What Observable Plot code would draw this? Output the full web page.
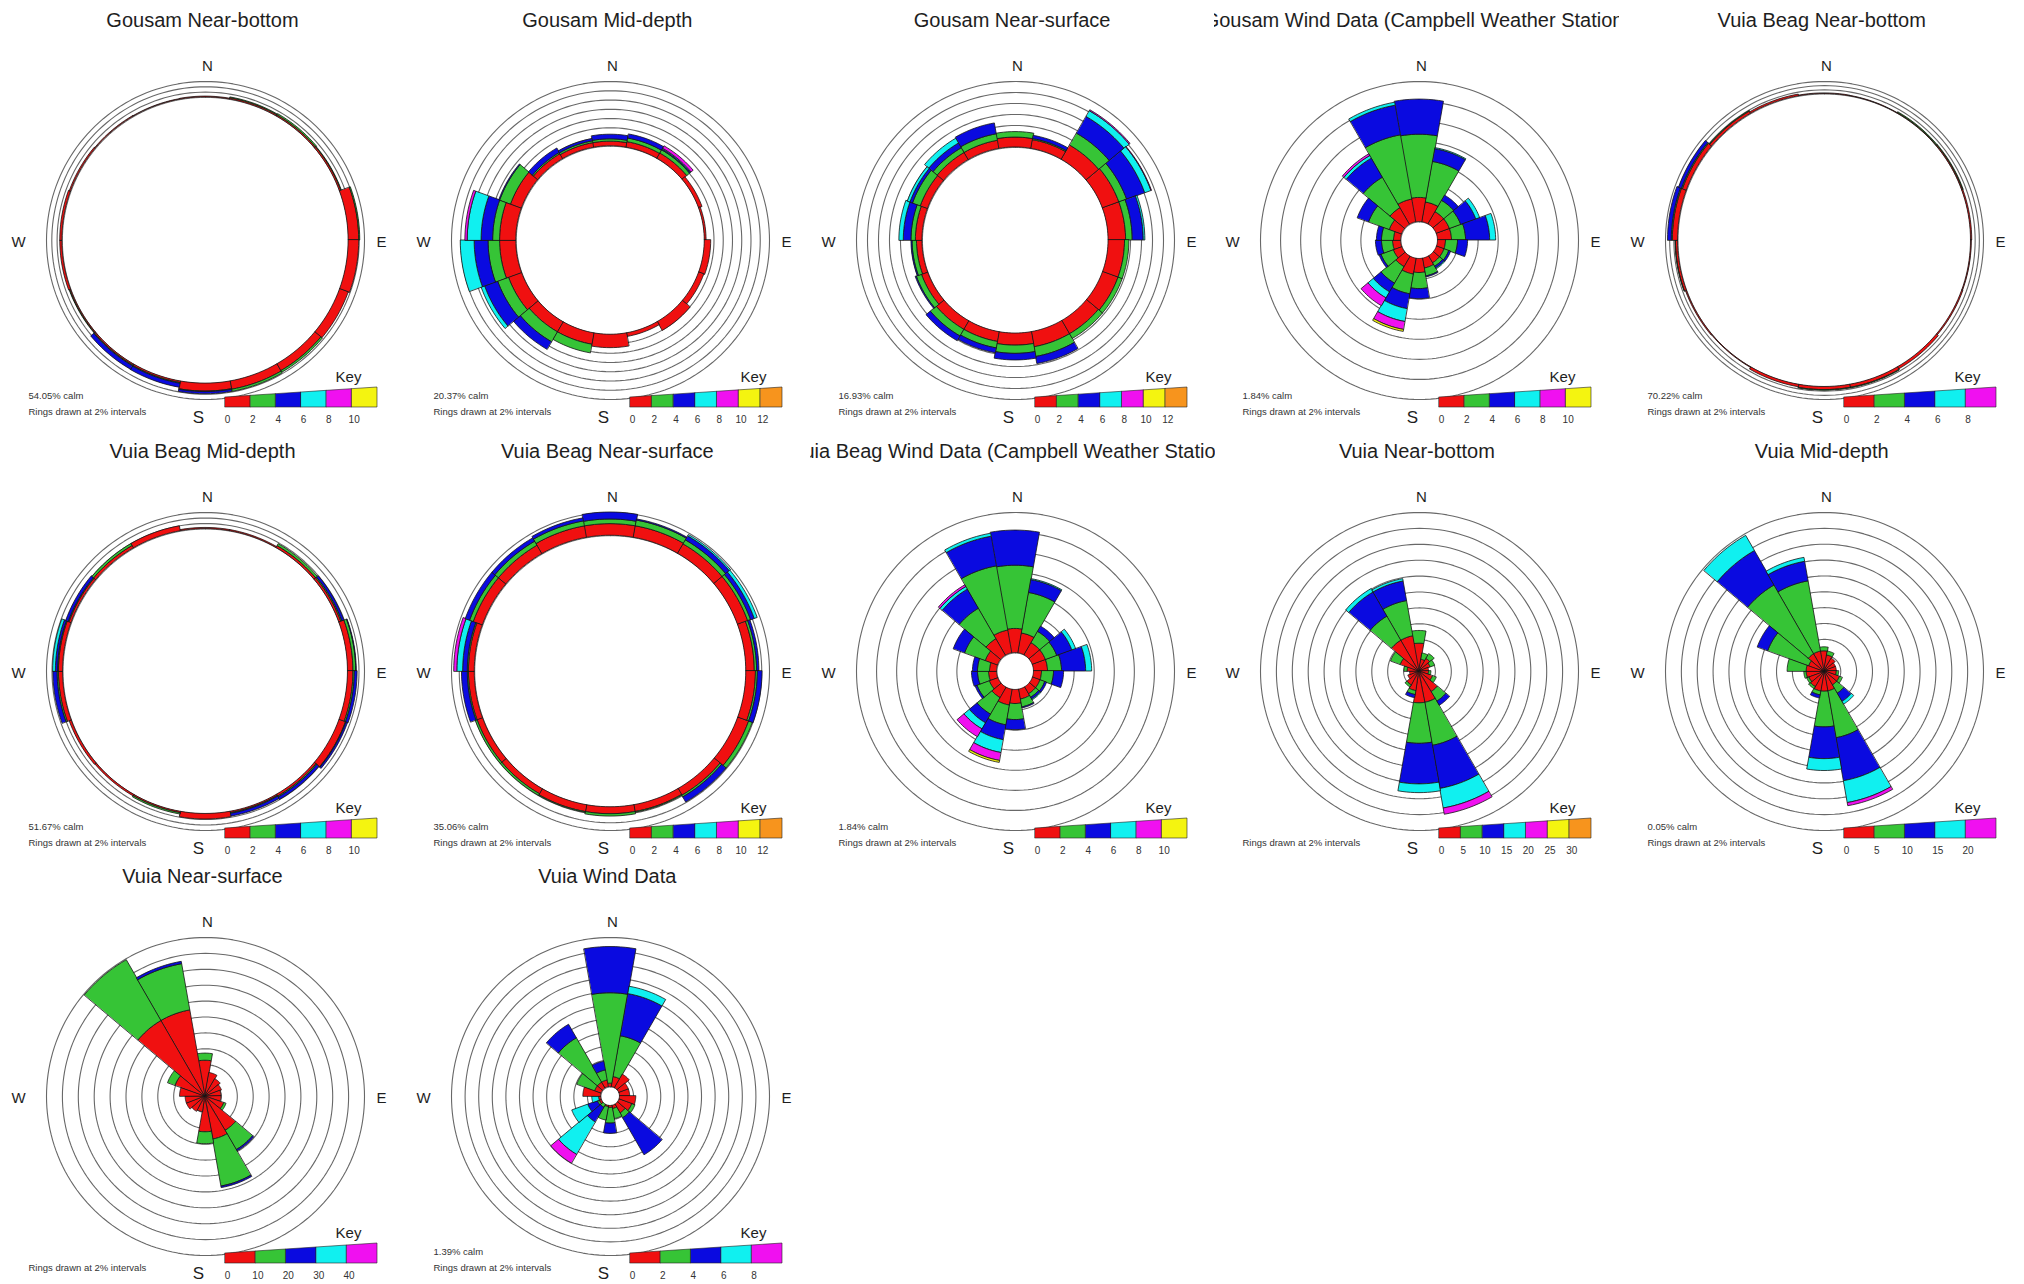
<!DOCTYPE html>
<html><head><meta charset="utf-8">
<script src="https://cdn.jsdelivr.net/npm/d3@7"></script>
<script src="https://cdn.jsdelivr.net/npm/@observablehq/plot@0.6"></script>
<style>
body{margin:0;background:#fff;font-family:"Liberation Sans",Arial,sans-serif;}
#wrap{position:relative;width:2024px;height:1284px;}
.panel{position:absolute;width:405px;height:430px;overflow:hidden;}
.title{position:absolute;top:7px;left:50%;transform:translateX(-50%);white-space:nowrap;font-size:20px;line-height:26px;color:#1e1e1e;}
.panel svg{position:absolute;left:0;top:40px;}
</style></head><body><div id="wrap"></div>
<script>
// ---- categories ----
const directions = [0,20,40,60,80,100,120,140,160,180,200,220,240,260,280,300,320,340];
const binColors = ["#f01010","#36c436","#0a0ae0","#10f0f0","#f010f0","#f4f410","#f7941d"];

// ---- key (speed) tick labels ----
const key0to8  = ["0","2","4","6","8"];
const key0to10 = ["0","2","4","6","8","10"];
const key0to12 = ["0","2","4","6","8","10","12"];
const key0to20 = ["0","5","10","15","20"];
const key0to30 = ["0","5","10","15","20","25","30"];
const key0to40 = ["0","10","20","30","40"];

// ---- series: % per speed bin, per direction (N, 20°, 40° ... 340°) ----
const gousamNearBottom = [[0.3],[0.5,0.3],[0.5,0.5],[0.6,0.2],[4.0,0.4],[4.0],[3.5],[3.0,0.7],[3.2,0.8],[3.0,0.2,0.8],[0.6,0.3,1.5],[0.5,0.3,1.5],[0.4,0.2],[0.8],[0.8],[0.5],[0.3],[0.2]];
const gousamMidDepth = [[1.0,0.5,1.0],[1.2,0.8,0.9],[1.3,0.8,0.2,0.2,0.6],[0.8],[0.4],[1.4],[1.2],[2.2],[0.8],[2.9],[2.5,1.9],[2.5,2.5,1.9],[3.0,2.5,3.0,0.8],[3.5,2.5,3.0,3.0],[3.5,1.5,2.5,3.0,0.5],[2.5,2.5,0.2],[1.2,0.3,1.1],[1.0,0.4,0.5]];
const gousamNearSurface = [[1.8,1.0],[1.6,0.2,0.6],[3.0,2.5,3.5,1.2,0.2],[3.2,1.5,3.5,1.2,0.1],[3.2,1.2,2.0,0.3],[3.0,0.8],[3.0,0.8],[2.8,1.0],[2.8,1.8,1.3],[2.2,1.5,1.2],[1.8,1.2,0.9],[1.8,1.4,1.0],[1.2,1.0,0.2],[1.0,0.8,0.2],[1.2,0.8,1.4,0.8],[1.4,1.5,0.5,0.5],[1.5,1.0,1.0,1.0],[1.5,1.2,2.0]];
const campbellWind = [[2.4,6.3,3.5],[2.0,4.1,1.3,0.1],[1.4,1.3,0.6],[1.4,1.2,1.6,0.4],[1.4,1.4,2.4,0.6],[0.8,1.2,1.0],[0.8,0.5,0.2],[0.8,0.4,0.2,0.1],[1.0,0.8,0.1],[1.4,1.6,1.0],[1.6,2.0,1.5,1.3,0.8,0.2],[1.2,1.9,1.0,0.7,0.9],[0.9,1.3,0.2],[0.8,1.1,0.6],[0.7,1.2,0.5],[1.3,2.2,1.2],[1.9,3.5,2.2,0.3,0.2],[2.3,6.5,3.0,0.3]];
const vuiaBeagNearBottom = [[0.3],[0.2],[0.3,0.4],[0.5,0.3],[0.6],[0.4],[0.6],[1.2],[1.5,0.3],[1.5,0.3],[1.2],[0.3],[0.5],[1.0,0.2],[2.5,0.5,1.8],[2.0,0.5,1.5],[1.2,0.3],[0.8]];
const vuiaBeagMidDepth = [[0.4],[0.4],[0.8,0.8],[0.8,0.4,0.8],[2.0,1.0,0.2],[2.0,0.5,1.0],[2.5,0.2,0.6],[0.8,0.4,1.0],[0.5,0.3,1.0],[2.0],[0.5,0.5],[0.6],[0.8],[1.5,0.5,1.5],[1.5,0.3,0.8,1.0],[0.8,0.3,1.0],[1.0,0.8],[1.8]];
const vuiaBeagNearSurface = [[3.0,1.2,1.8],[3.0,1.5,0.3],[2.8,1.2,1.2,0.4],[2.8,0.8,1.0,0.8],[2.2,0.6,0.6],[2.5,0.5,1.2],[3.0,1.0],[2.0,0.5,1.5],[1.8,0.2],[1.8,0.6],[1.8,0.2],[1.5,0.5],[1.5,0.5],[1.5,0.3,1.5],[1.5,0.3,1.2,1.5,0.8],[2.5,1.0,1.2],[2.5,1.2,1.0],[3.0,1.3,0.8]];
const vuiaNearBottom = [[3.5,1.6],[1.5,0.8],[1.8,0.7],[1.5,0.6],[1.2],[1.2,0.3],[1.8,0.5],[3.0,1.4,0.6],[4.0,5.5,5.5,2.5,0.8],[4.0,5.1,5.1,1.1],[2.5,0.5,0.4],[2.0,0.3],[1.5],[1.2],[1.5,0.4],[2.5,1.3],[4.5,3.5,3.5,0.5],[4.5,4.5,2.5,0.3]];
const vuiaMidDepth = [[2.5,0.5],[2.0,0.5],[1.8],[1.5],[1.5],[1.5,0.3],[2.0,0.4],[2.0,1.2,1.2,0.4],[2.5,6.0,5.5,2.8,0.4],[2.5,4.5,4.0,1.5],[2.5,0.5,0.4],[2.2,0.3],[2.0,0.3],[2.2,0.3],[2.2,2.4],[2.0,5.5,1.4],[2.5,10.0,5.0,2.2],[2.5,9.0,2.5,0.5]];
const vuiaNearSurface = [[4.5,0.9],[3.0],[2.5],[2.2],[2.0],[2.0],[2.5,0.3],[5.0,2.8,0.2],[5.5,6.0,0.2],[4.5,1.5],[2.0],[2.2],[2.5],[2.5],[3.2],[4.0,1.0],[11.0,8.8],[11.0,5.9,0.3]];
const vuiaWind = [[0.5,13.3,6.8],[1.5,6.1,6.3,1.1],[2.3],[1.5],[1.5],[2.4],[2.0,0.5],[1.5,0.8,6.3],[0.5,1.5],[0.3,2.3,1.5],[0.2,2.0],[0,0.5,2.5,5.5,1.5],[0.3,0.3,1.5,2.5],[0.3,0,0,1.0],[2.6],[1.0,2.8],[1.0,7.5,2.3],[1.0,1.5,1.3]];

// ---- panel metadata ----
const titles = ["Gousam Near-bottom","Gousam Mid-depth","Gousam Near-surface","Gousam Wind Data (Campbell Weather Station)","Vuia Beag Near-bottom",
  "Vuia Beag Mid-depth","Vuia Beag Near-surface","Vuia Beag Wind Data (Campbell Weather Station)","Vuia Near-bottom","Vuia Mid-depth",
  "Vuia Near-surface","Vuia Wind Data"];
const calmPct = [54.05,20.37,16.93,1.84,70.22,51.67,35.06,1.84,0,0.05,0,1.39];
const calmLabels = ["54.05% calm","20.37% calm","16.93% calm","1.84% calm","70.22% calm","51.67% calm","35.06% calm","1.84% calm","","0.05% calm","","1.39% calm"];
const ringCounts = [3,7,6,7,3,3,3,7,10,10,10,11];
const series = [gousamNearBottom,gousamMidDepth,gousamNearSurface,campbellWind,vuiaBeagNearBottom,vuiaBeagMidDepth,vuiaBeagNearSurface,campbellWind,vuiaNearBottom,vuiaMidDepth,vuiaNearSurface,vuiaWind];
const keys = [key0to10,key0to12,key0to12,key0to10,key0to8,key0to10,key0to12,key0to10,key0to30,key0to20,key0to40,key0to8];

const FONT = "Liberation Sans, Arial, sans-serif";
const rowTop = [0, 431, 856];

function rose(i) {
  const W = 405, H = 390, cx = 205, cy = 200, RP = 159;
  const calm = calmPct[i], n = ringCounts[i], data = series[i], labels = keys[i];
  const rout = calm + 2 * n;
  const u = rout / RP;                 // % per pixel
  const rad = Math.PI / 180;
  const pts = [];
  data.forEach((bins, d) => {
    const dir = directions[d];
    let r0 = calm;
    bins.forEach((v, b) => {
      if (v > 0) {
        const r1 = r0 + v;
        for (let t = 0; t <= 10; t++) {
          const a = (dir - 10 + 2 * t) * rad;
          pts.push({id: d * 10 + b, color: binColors[b],
            x1: r0 * Math.sin(a), y1: r0 * Math.cos(a), x2: r1 * Math.sin(a), y2: r1 * Math.cos(a)});
        }
      }
      r0 += v;
    });
  });
  const ringPts = [];
  for (let k = 1; k <= n; k++) {
    const r = calm + 2 * k;
    for (let a = 0; a <= 360; a += 2) ringPts.push({ring: k, x: r * Math.sin(a * rad), y: r * Math.cos(a * rad)});
  }
  const holePts = [];
  if (calm > 0.5) for (let a = 0; a <= 360; a += 2) holePts.push({x: calm * Math.sin(a * rad), y: calm * Math.cos(a * rad)});
  const compass = [
    {t: "N", x: 2 * u, y: 174 * u, s: 15},
    {t: "E", x: 176 * u, y: -2 * u, s: 15},
    {t: "W", x: -187 * u, y: -2 * u, s: 15},
    {t: "S", x: -7 * u, y: -177 * u, s: 17}
  ];
  const m = labels.length, kx0 = 20, kw = 152, wSeg = kw / m;
  const keyPts = [];
  for (let j = 0; j < m; j++) {
    for (const e of [j, j + 1]) {
      const px = kx0 + e * wSeg;
      keyPts.push({id: j, color: binColors[j], x: px * u, yb: -167 * u, yt: (-157 + 10 * e / m) * u});
    }
  }
  const keyLabels = labels.map((l, j) => ({t: l, x: (kx0 + 2 + j * wSeg) * u, y: -179 * u}));
  const notes = [];
  if (calmLabels[i]) notes.push({t: calmLabels[i], x: -177 * u, y: -155 * u});
  notes.push({t: "Rings drawn at 2% intervals", x: -177 * u, y: -171 * u});

  return Plot.plot({
    width: W, height: H, margin: 0,
    x: {domain: [-cx * u, (W - cx) * u], range: [0, W], axis: null},
    y: {domain: [-(H - cy) * u, cy * u], range: [H, 0], axis: null},
    color: {type: "identity"},
    style: {fontFamily: FONT, background: "white", overflow: "visible"},
    marks: [
      Plot.line(ringPts, {x: "x", y: "y", z: "ring", stroke: "#686868", strokeWidth: 1.1}),
      Plot.line(holePts, {x: "x", y: "y", stroke: "#555", strokeWidth: 0.8}),
      Plot.area(pts, {x1: "x1", y1: "y1", x2: "x2", y2: "y2", z: "id", fill: "color", stroke: "#151515", strokeWidth: 0.8, curve: "linear"}),
      Plot.text(compass, {x: "x", y: "y", text: "t", fontSize: d => d.s, fill: "#1e1e1e"}),
      Plot.area(keyPts, {x1: "x", y1: "yb", y2: "yt", z: "id", fill: "color", stroke: "#222", strokeWidth: 0.6, curve: "linear"}),
      Plot.text(keyLabels, {x: "x", y: "y", text: "t", fontSize: 10, fill: "#333"}),
      Plot.text([{t: "Key", x: 143 * u, y: -137 * u}], {x: "x", y: "y", text: "t", fontSize: 15, fill: "#1e1e1e"}),
      Plot.text(notes, {x: "x", y: "y", text: "t", fontSize: 9.5, fill: "#333", textAnchor: "start"})
    ]
  });
}

const wrap = document.getElementById("wrap");
titles.forEach((title, i) => {
  const row = Math.floor(i / 5), col = i % 5;
  const div = document.createElement("div");
  div.className = "panel";
  div.style.left = (col * 404.8) + "px";
  div.style.top = rowTop[row] + "px";
  const t = document.createElement("div");
  t.className = "title";
  t.textContent = title;
  div.appendChild(t);
  div.appendChild(rose(i));
  wrap.appendChild(div);
});
</script></body></html>
